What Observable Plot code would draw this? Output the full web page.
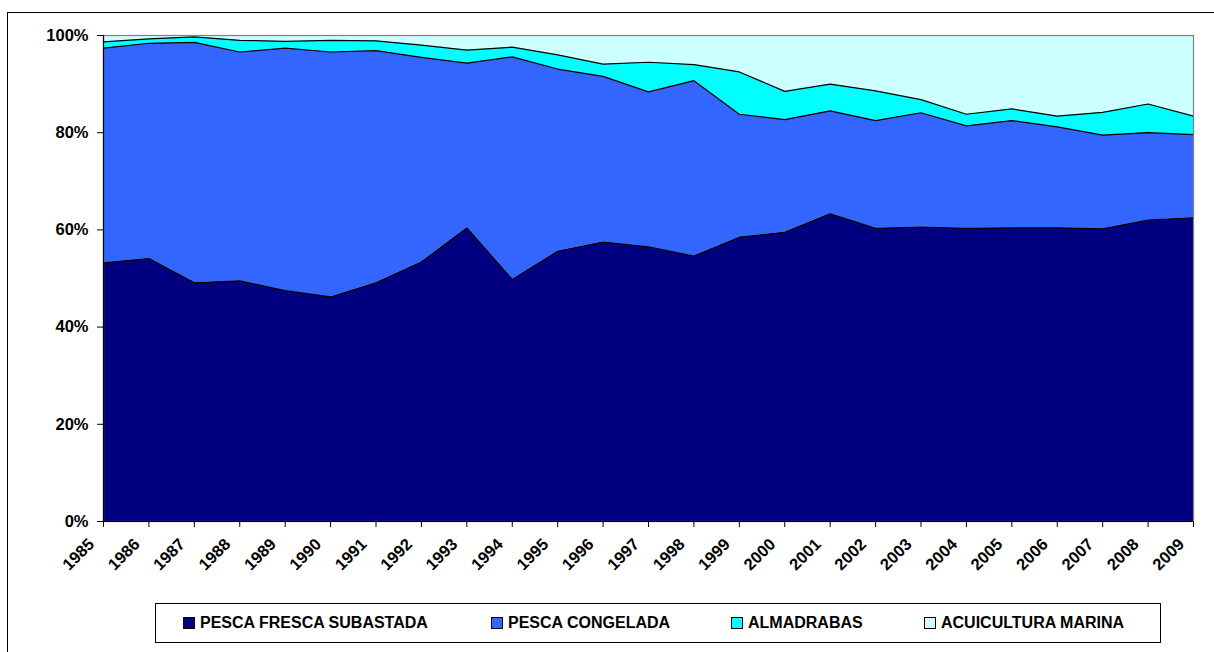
<!DOCTYPE html>
<html>
<head>
<meta charset="utf-8">
<script src="https://cdn.jsdelivr.net/npm/d3@7"></script>
<script src="https://cdn.jsdelivr.net/npm/@observablehq/plot@0.6"></script>
<style>
  html, body { margin: 0; padding: 0; background: #fff; overflow: hidden; width: 1214px; height: 652px; }
  body { position: relative; font-family: "Liberation Sans", Arial, sans-serif; }
  #frame { position: absolute; left: 7px; top: 12px; width: 1300px; height: 700px; border: 1px solid #000; box-sizing: border-box; }
  #chart { position: absolute; left: 0; top: 0; }
  #legend { position: absolute; left: 155px; top: 603px; width: 1006px; height: 40px; border: 1px solid #000; box-sizing: border-box; background: #fff; }
  .item { position: absolute; top: 0; height: 38px; display: flex; align-items: center; font-weight: bold; font-size: 16px; color: #000; white-space: nowrap; }
  .sw { width: 10px; height: 10px; border: 1px solid #000; margin-right: 5px; }
</style>
</head>
<body>
<div id="frame"></div>
<div id="chart"></div>
<div id="legend"></div>
<script>
const years = [1985,1986,1987,1988,1989,1990,1991,1992,1993,1994,1995,1996,1997,1998,1999,2000,2001,2002,2003,2004,2005,2006,2007,2008,2009];
const seriesNames = ["PESCA FRESCA SUBASTADA","PESCA CONGELADA","ALMADRABAS","ACUICULTURA MARINA"];
const seriesColors = ["#000080","#3366FF","#00FFFF","#CCFFFF"];
const frescaSubastada = [53.2,54.1,49.1,49.5,47.5,46.2,49.1,53.4,60.4,49.8,55.6,57.5,56.5,54.6,58.5,59.5,63.3,60.3,60.6,60.3,60.4,60.4,60.2,62.0,62.5];
const congelada       = [44.2,44.3,49.5,47.1,49.9,50.4,47.8,42.1,33.9,45.8,37.5,34.1,31.9,36.1,25.3,23.2,21.2,22.2,23.5,21.1,22.1,20.8,19.3,18.0,17.1];
const almadrabas      = [1.3,0.9,1.1,2.4,1.4,2.4,2.0,2.5,2.7,2.0,2.9,2.5,6.1,3.3,8.7,5.8,5.5,6.1,2.7,2.4,2.4,2.2,4.7,5.9,3.8];
const acuicultura     = [1.3,0.7,0.3,1.0,1.2,1.0,1.1,2.0,3.0,2.4,4.0,5.9,5.5,6.0,7.5,11.5,10.0,11.4,13.2,16.2,15.1,16.6,15.8,14.1,16.6];
const yTickPercents = [0,20,40,60,80,100];

const seriesValues = [frescaSubastada, congelada, almadrabas, acuicultura];
const data = [];
seriesNames.forEach((name, i) => {
  years.forEach((yr, j) => data.push({year: yr, series: name, value: seriesValues[i][j]}));
});
const topSeries = seriesNames[seriesNames.length - 1];

const chart = Plot.plot({
  width: 1214,
  height: 591,
  marginLeft: 103,
  marginRight: 21,
  marginTop: 35,
  marginBottom: 70,
  style: {fontFamily: "'Liberation Sans', Arial, sans-serif", fontWeight: "bold", fontSize: "16px", color: "#000", background: "transparent"},
  x: {type: "linear", domain: [1985, 2009]},
  y: {domain: [0, 1]},
  color: {domain: seriesNames, range: seriesColors},
  marks: [
    Plot.areaY(data, Plot.stackY({x: "year", y: "value", z: "series", fill: "series", order: seriesNames, offset: "normalize"})),
    Plot.lineY(data, Plot.stackY2({x: "year", y: "value", z: "series", order: seriesNames, offset: "normalize", stroke: "#000", strokeOpacity: d => d.series === topSeries ? 0 : 1, strokeWidth: 1.2})),
    Plot.frame({stroke: "#808080", strokeWidth: 1.2}),
    Plot.ruleX([1985], {stroke: "#000", strokeWidth: 1.2}),
    Plot.ruleY([0], {stroke: "#000", strokeWidth: 1.2}),
    Plot.axisY({ticks: yTickPercents.map(p => p / 100), tickFormat: d => Math.round(d * 100) + "%", tickSize: 6, tickPadding: 9, label: null, fontSize: 16.5}),
    Plot.axisX({ticks: years, tickFormat: () => "", tickSize: 6, label: null}),
    Plot.axisX({ticks: years, tickFormat: d => String(d), tickSize: 0, tickRotate: -45, tickPadding: 14, dx: -12, dy: 6, label: null, fontSize: 16.5})
  ]
});
document.getElementById("chart").appendChild(chart);

const legend = document.getElementById("legend");
const legendX = [27, 335, 575, 768];
seriesNames.forEach((name, i) => {
  const it = document.createElement("div");
  it.className = "item";
  it.style.left = legendX[i] + "px";
  const sw = document.createElement("div");
  sw.className = "sw";
  sw.style.background = seriesColors[i];
  const tx = document.createElement("span");
  tx.textContent = name;
  it.appendChild(sw);
  it.appendChild(tx);
  legend.appendChild(it);
});
</script>
</body>
</html>
